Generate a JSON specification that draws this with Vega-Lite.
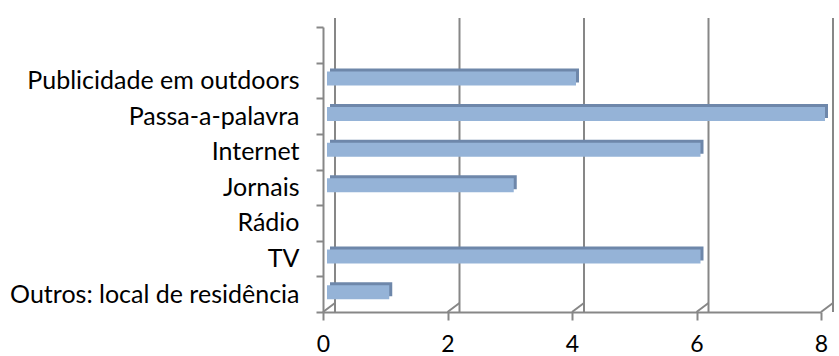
{
  "$schema": "https://vega.github.io/schema/vega-lite/v6.json",
  "width": 498,
  "height": 285,
  "autosize": {"type": "none"},
  "padding": {"left": 323, "top": 27, "right": 18, "bottom": 44},
  "background": "white",
  "config": {"view": {"stroke": null}, "font": "Lato"},
  "datasets": {
    "bars": [
      {"canal": "Publicidade em outdoors", "n": 4},
      {"canal": "Passa-a-palavra", "n": 8},
      {"canal": "Internet", "n": 6},
      {"canal": "Jornais", "n": 3},
      {"canal": "Rádio", "n": 0},
      {"canal": "TV", "n": 6},
      {"canal": "Outros: local de residência", "n": 1}
    ],
    "grid": [{"v": 0}, {"v": 2}, {"v": 4}, {"v": 6}, {"v": 8}]
  },
  "layer": [
    {
      "data": {"name": "grid"},
      "mark": {"type": "rule", "color": "#878787", "strokeWidth": 2, "xOffset": 12, "yOffset": -9},
      "encoding": {
        "x": {"field": "v", "type": "quantitative", "scale": {"domain": [0, 8]}}
      }
    },
    {
      "data": {"name": "grid"},
      "mark": {"type": "rule", "color": "#878787", "strokeWidth": 2, "x2Offset": 12, "y2Offset": -9},
      "encoding": {
        "x": {"field": "v", "type": "quantitative"},
        "x2": {"field": "v"},
        "y": {"value": "height"},
        "y2": {"value": "height"}
      }
    },
    {
      "data": {"name": "bars"},
      "mark": {"type": "bar", "color": "#6E87AA", "size": 14, "xOffset": 7, "yOffset": -5},
      "encoding": {
        "x": {"field": "n", "type": "quantitative"},
        "y": {"field": "canal", "type": "nominal"}
      }
    },
    {
      "data": {"name": "bars"},
      "mark": {"type": "bar", "color": "#95B3D7", "size": 14, "xOffset": 4, "yOffset": -2},
      "encoding": {
        "x": {
          "field": "n", "type": "quantitative",
          "scale": {"domain": [0, 8], "nice": false, "zero": true},
          "axis": {
            "values": [0, 2, 4, 6, 8], "format": "d", "title": null, "grid": false,
            "domainColor": "#878787", "domainWidth": 2,
            "tickColor": "#878787", "tickWidth": 2, "tickSize": 8,
            "labelFontSize": 23, "labelColor": "#000000", "labelPadding": 13,
            "labelFlush": false, "labelOverlap": false
          }
        },
        "y": {
          "field": "canal", "type": "nominal",
          "scale": {
            "domain": [" ", "Publicidade em outdoors", "Passa-a-palavra", "Internet", "Jornais", "Rádio", "TV", "Outros: local de residência"],
            "paddingInner": 0, "paddingOuter": 0
          },
          "axis": {
            "title": null, "tickBand": "extent",
            "domainColor": "#878787", "domainWidth": 2,
            "tickColor": "#878787", "tickWidth": 2, "tickSize": 7,
            "labelFontSize": 25, "labelColor": "#000000", "labelPadding": 17,
            "labelLimit": 400
          }
        }
      }
    }
  ]
}
